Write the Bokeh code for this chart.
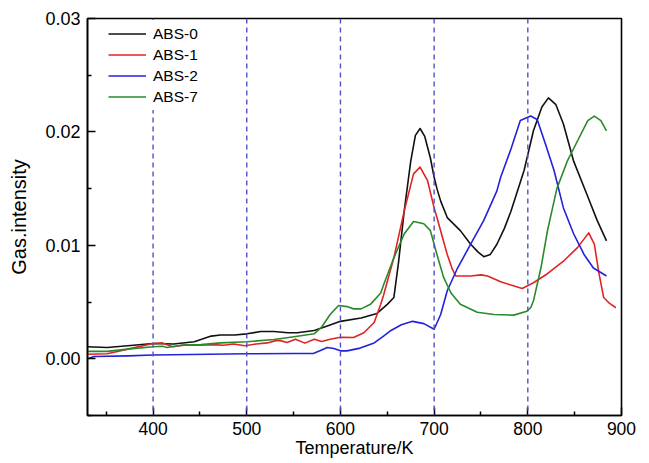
from bokeh.plotting import figure
from bokeh.models import FixedTicker, PrintfTickFormatter, Legend, LegendItem, Span
from bokeh.embed import file_html
from bokeh.resources import INLINE

# ---------------- data ----------------
abs0_t = [330, 351, 373, 400, 422, 444, 462, 472, 487, 500, 515, 529, 544, 554, 572, 586, 600, 622, 639,
          650, 657, 662, 668, 675, 680, 685, 690, 696, 700, 703, 707, 714, 728, 739, 747, 753, 760, 767,
          775, 782, 796, 806, 815, 822, 830, 838, 849, 863, 874, 884]
abs0_v = [0.00106, 0.00100, 0.00115, 0.00135, 0.00130, 0.00150, 0.00200, 0.00210, 0.00210, 0.00220,
          0.00240, 0.00240, 0.00230, 0.00230, 0.00250, 0.00290, 0.00330, 0.00360, 0.00400,
          0.00480, 0.00540, 0.00850, 0.01300, 0.01740, 0.01970, 0.02030, 0.01960, 0.01770, 0.01600,
          0.01500, 0.01390, 0.01245, 0.01130, 0.01010, 0.00940, 0.00900, 0.00920, 0.01010,
          0.01150, 0.01300, 0.01660, 0.02010, 0.02220, 0.02300, 0.02240, 0.02070, 0.01740, 0.01450,
          0.01220, 0.01040]

abs1_t = [330, 351, 373, 400, 410, 421, 433, 450, 464, 475, 486, 498, 510, 522, 531, 536, 543, 552, 562,
          572, 580, 589, 600, 614, 625, 636, 643, 646, 657, 668, 678, 685, 693, 700, 703, 714, 719, 723,
          739, 750, 757, 771, 782, 794, 806, 821, 838, 853, 865, 871, 876, 881, 887, 894]
abs1_v = [0.00040, 0.00045, 0.00085, 0.00135, 0.00140, 0.00106, 0.00120, 0.00120, 0.00125, 0.00120,
          0.00130, 0.00115, 0.00130, 0.00140, 0.00160, 0.00160, 0.00144, 0.00173, 0.00138,
          0.00173, 0.00153, 0.00173, 0.00190, 0.00188, 0.00230, 0.00320, 0.00480, 0.00560, 0.00890,
          0.01300, 0.01630, 0.01690, 0.01570, 0.01330, 0.01245, 0.00920, 0.00800, 0.00730,
          0.00730, 0.00740, 0.00730, 0.00680, 0.00650, 0.00620, 0.00670, 0.00750, 0.00860, 0.00980,
          0.01110, 0.01010, 0.00750, 0.00540, 0.00490, 0.00450]

abs2_t = [330, 337, 373, 400, 500, 550, 571, 578, 586, 593, 600, 607, 621, 636, 646, 654, 665, 677, 689,
          700, 707, 714, 725, 739, 753, 760, 767, 771, 782, 792, 803, 810, 819, 828, 838, 849, 860, 870, 884]
abs2_v = [0.00000, 0.00020, 0.00026, 0.00033, 0.00044, 0.00046, 0.00047, 0.00070, 0.00100, 0.00090,
          0.00070, 0.00070, 0.00094, 0.00140, 0.00200, 0.00250, 0.00300, 0.00330, 0.00310,
          0.00260, 0.00390, 0.00600, 0.00800, 0.01010, 0.01220, 0.01350, 0.01480, 0.01600, 0.01850,
          0.02100, 0.02140, 0.02110, 0.01890, 0.01660, 0.01330, 0.01100, 0.00920, 0.00800, 0.00730]

abs7_t = [330, 351, 373, 400, 410, 415, 430, 451, 472, 500, 529, 543, 572, 580, 589, 598, 607, 614, 622,
          632, 643, 646, 657, 668, 678, 689, 696, 700, 703, 710, 718, 728, 746, 764, 785, 799, 803, 806,
          814, 821, 831, 842, 853, 864, 871, 878, 884]
abs7_v = [0.00065, 0.00065, 0.00085, 0.00106, 0.00110, 0.00100, 0.00120, 0.00125, 0.00140, 0.00150,
          0.00170, 0.00185, 0.00220, 0.00280, 0.00390, 0.00470, 0.00460, 0.00440, 0.00440,
          0.00480, 0.00580, 0.00650, 0.00890, 0.01100, 0.01210, 0.01190, 0.01130, 0.01010, 0.00920,
          0.00720, 0.00580, 0.00480, 0.00410, 0.00390, 0.00385, 0.00420, 0.00450, 0.00510,
          0.00800, 0.01130, 0.01500, 0.01740, 0.01920, 0.02100, 0.02140, 0.02100, 0.02010]

series_names = ["ABS-0", "ABS-1", "ABS-2", "ABS-7"]
series_colors = ["#111111", "#e02424", "#2222dd", "#2a8a2a"]
guide_temps = [400, 500, 600, 700, 800]
x_ticks = [400, 500, 600, 700, 800, 900]
x_minor = [350, 450, 550, 650, 750, 850]
y_ticks = [0.00, 0.01, 0.02, 0.03]
y_minor = [-0.005, 0.005, 0.015, 0.025]

FONT = "Liberation Sans"

p = figure(width=649, height=463, output_backend="svg", toolbar_location=None,
           x_range=(330, 900), y_range=(-0.005, 0.03),
           min_border_left=87, min_border_right=28, min_border_top=18, min_border_bottom=48)
p.background_fill_color = "white"
p.border_fill_color = "white"
p.outline_line_color = "#000000"
p.outline_line_width = 1.6
p.grid.visible = False

for ax in (p.xaxis[0], p.yaxis[0]):
    ax.axis_line_color = "#000000"
    ax.axis_line_width = 1.6
    ax.major_tick_in = 8
    ax.major_tick_out = 0
    ax.minor_tick_in = 4
    ax.minor_tick_out = 0
    ax.major_tick_line_width = 1.5
    ax.minor_tick_line_width = 1.5
    ax.major_tick_line_color = "#000000"
    ax.minor_tick_line_color = "#000000"
    ax.major_label_text_font = FONT
    ax.major_label_text_color = "#000000"
    ax.axis_label_text_font = FONT
    ax.axis_label_text_font_style = "normal"
    ax.axis_label_text_color = "#000000"

p.xaxis[0].major_label_text_font_size = "17.5px"
p.yaxis[0].major_label_text_font_size = "18px"
p.xaxis[0].ticker = FixedTicker(ticks=x_ticks, minor_ticks=x_minor)
p.yaxis[0].ticker = FixedTicker(ticks=y_ticks, minor_ticks=y_minor)
p.yaxis[0].formatter = PrintfTickFormatter(format="%.2f")
p.xaxis[0].major_label_standoff = 6
p.yaxis[0].major_label_standoff = 7

p.xaxis[0].axis_label = "Temperature/K"
p.xaxis[0].axis_label_text_font_size = "18px"
p.xaxis[0].axis_label_standoff = 0
p.yaxis[0].axis_label = "Gas.intensity"
p.yaxis[0].axis_label_text_font_size = "20px"
p.yaxis[0].axis_label_standoff = 12

# guide lines
for t in guide_temps:
    p.add_layout(Span(location=t, dimension="height", line_color="#5050c8",
                      line_width=1.4, line_dash="5 4"))

ts = [abs0_t, abs1_t, abs2_t, abs7_t]
vs = [abs0_v, abs1_v, abs2_v, abs7_v]
renderers = []
for t, v, c in zip(ts, vs, series_colors):
    renderers.append(p.line(t, v, line_color=c, line_width=1.6, line_join="round"))

legend = Legend(items=[LegendItem(label=n, renderers=[r]) for n, r in zip(series_names, renderers)],
                location=(18, 305), orientation="vertical",
                background_fill_color="white", background_fill_alpha=1.0,
                border_line_alpha=0, padding=3, margin=0, spacing=0,
                glyph_width=38, glyph_height=21, label_height=21, label_standoff=7,
                label_text_font=FONT, label_text_font_size="15.5px", label_text_color="#000000")
p.add_layout(legend, "center")

open("out.html", "w").write(file_html(p, INLINE))
